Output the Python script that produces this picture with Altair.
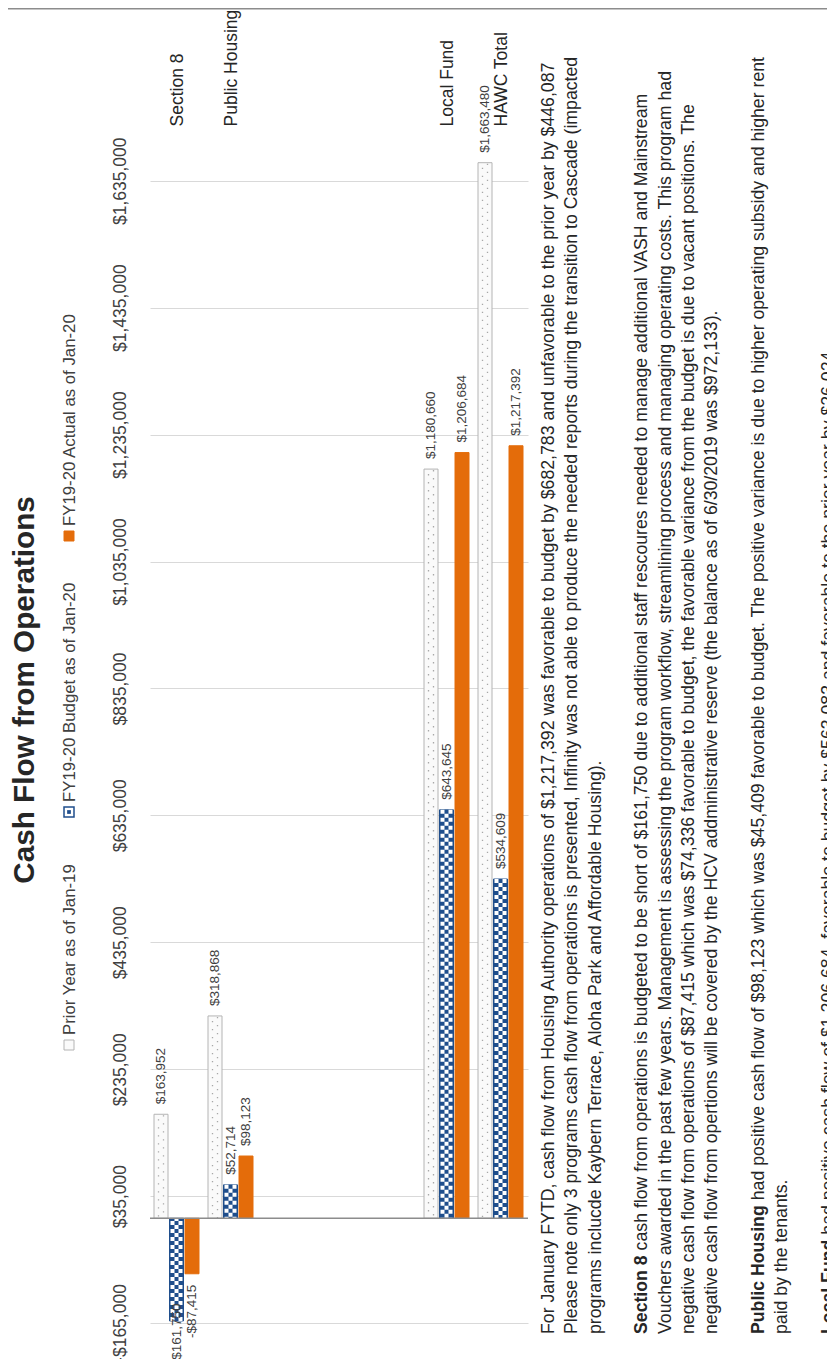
import json
import altair as alt
import pandas as pd

# ---------------- data ----------------
categories = ["Section 8", "Public Housing", "", "", "", "Local Fund", "HAWC Total"]
series = ["Prior Year as of Jan-19", "FY19-20 Budget as of Jan-20", "FY19-20 Actual as of Jan-20"]
prior = [163952, 318868, None, None, None, 1180660, 1663480]
budget = [-161750, 52714, None, None, None, 643645, 534609]
actual = [-87415, 98123, None, None, None, 1206684, 1217392]
y_ticks = [-165000, 35000, 235000, 435000, 635000, 835000, 1035000, 1235000, 1435000, 1635000]
title = "Cash Flow from Operations"

paragraphs = [
    [("", "For January FYTD, cash flow from Housing Authority operations of $1,217,392 was favorable to budget by $682,783 and unfavorable to the prior year by $446,087"),
     ("", "Please note only 3 programs cash flow from operations is presented, Infinity was not able to produce the needed reports during the transition to Cascade (impacted"),
     ("", "programs inclucde Kaybern Terrace, Aloha Park and Affordable Housing).")],
    [("Section 8", "cash flow from operations is budgeted to be short of $161,750 due to additional staff rescoures needed to manage additional VASH and Mainstream"),
     ("", "Vouchers awarded in the past few years. Management is assessing the program workflow, streamlining process and managing operating costs. This program had"),
     ("", "negative cash flow from operations of $87,415 which was $74,336 favorable to budget, the favorable variance from the budget is due to vacant positions. The"),
     ("", "negative cash flow from opertions will be covered by the HCV addministrative reserve (the balance as of 6/30/2019 was $972,133).")],
    [("Public Housing", "had positive cash flow of $98,123 which was $45,409 favorable to budget. The positive variance is due to higher operating subsidy and higher rent"),
     ("", "paid by the tenants.")],
    [("Local Fund", "had positive cash flow of $1,206,684, favorable to budget by $563,083 and favorable to the prior year by $26,024.")],
]

# ---------------- layout / style ----------------
FONT = "Liberation Sans"
W, H = 378, 1193
PX = W / len(categories)          # pixels per category
GROUP_PAD, BAR_STEP, BAR_W = 4, 15.5, 14
Y_DOMAIN = [-165000, 1715000]
fills = ["#FAFAFA", "#1F4E8C", "#E46C0A"]
strokes = ["#B4B4B4", "#1F4E8C", "#E46C0A"]
LEG_Y = [915, 682, 406]
PARA_X0, PARA_PITCH, PARA_Y = 399, 23.33, 1204
PARA_FS = 17.7

rows = []
for si, vals in enumerate([prior, budget, actual]):
    for ci, v in enumerate(vals):
        if v is None:
            continue
        rows.append(dict(ci=ci, si=si, series=series[si], value=v,
                         label=("-" if v < 0 else "") + f"${abs(v):,}"))
bars_df = pd.DataFrame(rows)

xscale = alt.Scale(domain=[0, len(categories)], nice=False, zero=False)
yscale = alt.Scale(domain=Y_DOMAIN, nice=False, zero=False)

cat_expr = json.dumps(categories) + "[floor(datum.value)]"
xaxis = alt.Axis(orient="top", values=[i + 0.5 for i in range(len(categories))],
                 labelExpr=cat_expr, labelAngle=270, labelAlign="left",
                 labelBaseline="middle", labelPadding=4, ticks=False, domain=False,
                 grid=False, labelFont=FONT, labelFontSize=17.5, labelColor="#262626",
                 labelOverlap=False, labelFlush=False, title=None)
yaxis = alt.Axis(orient="left", values=y_ticks,
                 labelExpr="(datum.value < 0 ? '-' : '') + '$' + format(abs(datum.value), ',')",
                 labelAngle=270, labelAlign="center", labelBaseline="bottom",
                 labelPadding=21, ticks=False, domain=False, grid=True,
                 gridColor="#D9D9D9", gridWidth=1, labelFont=FONT, labelFontSize=17.5,
                 labelColor="#404040", labelOverlap=False, labelFlush=False, title=None)

base = alt.Chart(bars_df).transform_calculate(
    x0=f"datum.ci + ({GROUP_PAD} + datum.si * {BAR_STEP}) / {PX}",
).transform_calculate(
    x1=f"datum.x0 + {BAR_W} / {PX}",
    xc=f"datum.x0 + {BAR_W / 2} / {PX}",
)

bars = base.mark_rect(strokeWidth=1).encode(
    x=alt.X("x0:Q", scale=xscale, axis=xaxis),
    x2="x1:Q",
    y=alt.Y("value:Q", scale=yscale, axis=yaxis),
    y2=alt.datum(0),
    fill=alt.Fill("series:N", scale=alt.Scale(domain=series, range=fills), legend=None),
    stroke=alt.Stroke("series:N", scale=alt.Scale(domain=series, range=strokes), legend=None),
)

layers = [bars]
# checker pattern on budget bars
for k in range(3):
    layers.append(
        base.transform_filter("datum.si == 1")
        .transform_calculate(xk=f"datum.x0 + {3 + 4 * k} / {PX}")
        .mark_rule(color="white", strokeWidth=4, strokeDash=[4, 4], strokeDashOffset=4 * (k % 2))
        .encode(x="xk:Q", y="value:Q", y2=alt.datum(0))
    )
# dotted pattern on prior bars
for k in range(2):
    layers.append(
        base.transform_filter("datum.si == 0")
        .transform_calculate(xk=f"datum.x0 + {4.5 + 5 * k} / {PX}")
        .mark_rule(color="#A8A8A8", strokeWidth=1.3, strokeDash=[1.3, 6.7], strokeDashOffset=4 * k + 3)
        .encode(x="xk:Q", y="value:Q", y2=alt.datum(0))
    )

zero_line = alt.Chart(pd.DataFrame({"z": [0]})).mark_rule(color="#8C8C8C", strokeWidth=1.6).encode(
    y=alt.Y("z:Q"))
layers.append(zero_line)

pos_labels = base.transform_filter("datum.value >= 0").mark_text(
    angle=270, align="left", baseline="middle", dx=10, font=FONT, fontSize=13.5, color="#404040"
).encode(x="xc:Q", y="value:Q", text="label:N")
neg_labels = base.transform_filter("datum.value < 0").transform_calculate(
    ly="max(datum.value, -117000)"
).mark_text(
    angle=270, align="right", baseline="middle", dx=-11, font=FONT, fontSize=13.5, color="#404040"
).encode(x="xc:Q", y="ly:Q", text="label:N")
layers += [pos_labels, neg_labels]

# title
layers.append(
    alt.Chart(pd.DataFrame({"t": [title]})).mark_text(
        angle=270, align="center", baseline="middle", font=FONT, fontSize=29.7,
        fontWeight="bold", color="#262626"
    ).encode(x=alt.value(-125), y=alt.value(560), text="t:N")
)

# legend
for i, name in enumerate(series):
    d = pd.DataFrame({"s": [name]})
    layers.append(
        alt.Chart(d).mark_square(size=100, fill=fills[i] if i != 1 else "white",
                                 stroke=strokes[i], strokeWidth=1.5 if i == 1 else 1,
                                 opacity=1, fillOpacity=1)
        .encode(x=alt.value(-81), y=alt.value(LEG_Y[i]))
    )
    if i == 1:
        layers.append(
            alt.Chart(d).mark_square(size=14, fill=fills[1], opacity=1, fillOpacity=1, strokeWidth=0)
            .encode(x=alt.value(-81), y=alt.value(LEG_Y[i]))
        )
    layers.append(
        alt.Chart(d).mark_text(angle=270, align="left", baseline="middle", font=FONT,
                               fontSize=16.8, color="#404040")
        .encode(x=alt.value(-80), y=alt.value(LEG_Y[i] - 10), text="s:N")
    )

# paragraphs
BOLD_W = {" ": .278, "S": .667, "e": .556, "c": .556, "t": .333, "i": .278, "o": .611,
          "n": .611, "8": .556, "P": .667, "u": .611, "b": .611, "l": .278, "H": .722,
          "s": .556, "g": .611, "L": .611, "a": .556, "F": .611, "d": .611}
prows = []
slot = 0
for para in paragraphs:
    for bold, rest in para:
        px = PARA_X0 + slot * PARA_PITCH
        pre = (sum(BOLD_W[ch] for ch in bold) + 0.278) * PARA_FS if bold else 0
        prows.append(dict(px=px, py=PARA_Y, bold=bold, rest=rest, pyr=PARA_Y - pre))
        slot += 1
    slot += 1
para_df = pd.DataFrame(prows)

layers.append(
    alt.Chart(para_df).transform_filter("datum.bold != ''").mark_text(
        angle=270, align="left", baseline="middle", font=FONT, fontSize=PARA_FS,
        fontWeight="bold", color="#262626"
    ).encode(x=alt.X("px:Q", scale=None, axis=None), y=alt.Y("py:Q", scale=None, axis=None),
             text="bold:N")
)
layers.append(
    alt.Chart(para_df).mark_text(
        angle=270, align="left", baseline="middle", font=FONT, fontSize=PARA_FS,
        color="#262626"
    ).encode(x=alt.X("px:Q", scale=None, axis=None), y=alt.Y("pyr:Q", scale=None, axis=None),
             text="rest:N")
)

# thin border line at the top
layers.append(
    alt.Chart(pd.DataFrame({"a": [0]})).mark_rule(color="#8C8C8C", strokeWidth=1.5)
    .encode(x=alt.value(-142), x2=alt.value(677), y=alt.value(-121.2))
)

chart = alt.layer(*layers).properties(
    width=W, height=H,
    autosize=alt.AutoSizeParams(type="none"),
    padding={"left": 142, "top": 122, "right": 299, "bottom": 36},
    background="white",
).configure_view(stroke=None)

chart.save("out.html", embed_options={"renderer": "svg", "actions": False})
